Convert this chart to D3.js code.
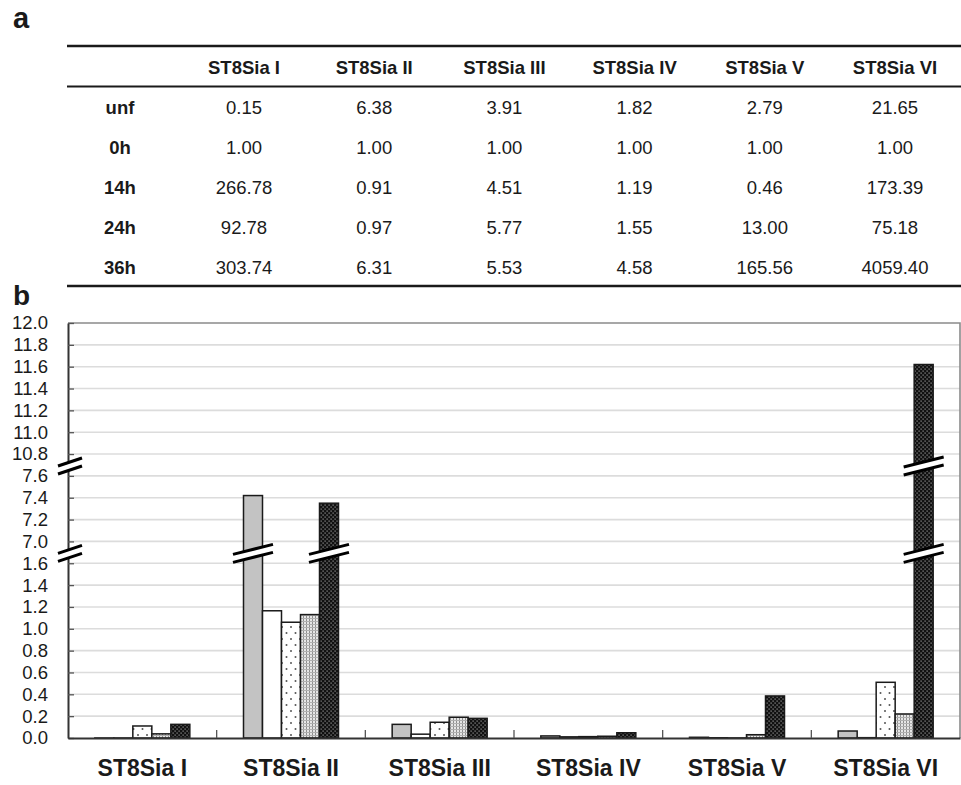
<!DOCTYPE html>
<html>
<head>
<meta charset="utf-8">
<script src="https://cdn.jsdelivr.net/npm/d3@7"></script>
<style>
  html, body { margin: 0; padding: 0; background: #fff; }
  svg { display: block; font-family: "Liberation Sans", Arial, Helvetica, sans-serif; }
</style>
</head>
<body>
<svg id="fig" width="961" height="785"></svg>
<script>
// ---- data -------------------------------------------------------------
const genes = ["ST8Sia I", "ST8Sia II", "ST8Sia III", "ST8Sia IV", "ST8Sia V", "ST8Sia VI"];
const timepoints = ["unf", "0h", "14h", "24h", "36h"];

// fold change relative to 0h (table a)
const foldUnf = [0.15, 6.38, 3.91, 1.82, 2.79, 21.65];
const fold0h  = [1.00, 1.00, 1.00, 1.00, 1.00, 1.00];
const fold14h = [266.78, 0.91, 4.51, 1.19, 0.46, 173.39];
const fold24h = [92.78, 0.97, 5.77, 1.55, 13.00, 75.18];
const fold36h = [303.74, 6.31, 5.53, 4.58, 165.56, 4059.40];

// relative expression levels (panel b)
const barUnf = [0.0001, 7.42, 0.125, 0.019, 0.0065, 0.064];
const bar0h  = [0.0004, 1.165, 0.035, 0.0105, 0.0023, 0.003];
const bar14h = [0.11, 1.06, 0.144, 0.0125, 0.001, 0.51];
const bar24h = [0.038, 1.13, 0.19, 0.016, 0.030, 0.22];
const bar36h = [0.125, 7.35, 0.18, 0.048, 0.385, 11.62];

// broken y axis: evenly spaced tick labels
const yTicks = [0.0, 0.2, 0.4, 0.6, 0.8, 1.0, 1.2, 1.4, 1.6,
                7.0, 7.2, 7.4, 7.6,
                10.8, 11.0, 11.2, 11.4, 11.6, 11.8, 12.0];
const axisBreaks = [[1.6, 7.0], [7.6, 10.8]];

// ---- layout ------------------------------------------------------------
const svg = d3.select("#fig");
const ink = "#1a1a1a";

const foldRows = [foldUnf, fold0h, fold14h, fold24h, fold36h];
const barSeries = [barUnf, bar0h, bar14h, bar24h, bar36h];

// ---- panel a: table ----------------------------------------------------
svg.append("text").attr("x", 13).attr("y", 28)
  .attr("font-size", 29).attr("font-weight", "bold").attr("fill", ink).text("a");

const tblLeft = 67, tblRight = 961;
const colX = d3.scalePoint().domain(genes).range([244, 895]);
const rowY = d3.scalePoint().domain(timepoints).range([107, 267]);
const labelX = 120;

[[46, 2.4], [86.5, 2], [286, 2.4]].forEach(([y, w]) => {
  svg.append("line").attr("x1", tblLeft).attr("x2", tblRight)
    .attr("y1", y).attr("y2", y).attr("stroke", ink).attr("stroke-width", w);
});

svg.append("g").selectAll("text").data(genes).join("text")
  .attr("x", d => colX(d)).attr("y", 67).attr("dy", "0.36em")
  .attr("text-anchor", "middle").attr("font-size", 18.5).attr("font-weight", "bold")
  .attr("fill", ink).text(d => d);

const rows = svg.append("g").selectAll("g").data(timepoints).join("g")
  .attr("transform", d => `translate(0,${rowY(d)})`);

rows.append("text").attr("x", labelX).attr("dy", "0.36em")
  .attr("text-anchor", "middle").attr("font-size", 18.5).attr("font-weight", "bold")
  .attr("fill", ink).text(d => d);

rows.each(function(t, i) {
  d3.select(this).selectAll("text.val").data(foldRows[i]).join("text")
    .attr("class", "val")
    .attr("x", (d, j) => colX(genes[j])).attr("dy", "0.36em")
    .attr("text-anchor", "middle").attr("font-size", 18.5)
    .attr("fill", ink).text(d => d.toFixed(2));
});

// ---- panel b: bar chart -------------------------------------------------
svg.append("text").attr("x", 13).attr("y", 305)
  .attr("font-size", 28).attr("font-weight", "bold").attr("fill", ink).text("b");

const plot = { left: 68, right: 960, top: 323, bottom: 738 };
const step = (plot.bottom - plot.top) / (yTicks.length - 1);

const y = d3.scaleLinear()
  .domain(yTicks)
  .range(yTicks.map((d, i) => plot.bottom - i * step));

const x0 = d3.scaleBand().domain(genes).range([plot.left, plot.right]);
const clusterW = 95;
const x1 = d3.scaleBand().domain(timepoints)
  .range([(x0.bandwidth() - clusterW) / 2, (x0.bandwidth() + clusterW) / 2]);

// fill patterns
const defs = svg.append("defs");
// 14h: sparse dots on white
const pDots = defs.append("pattern").attr("id", "pDots")
  .attr("patternUnits", "userSpaceOnUse").attr("width", 9).attr("height", 12);
pDots.append("rect").attr("width", 9).attr("height", 12).attr("fill", "#fff");
pDots.append("circle").attr("cx", 3).attr("cy", 3).attr("r", 1).attr("fill", "#555");
pDots.append("circle").attr("cx", 7.5).attr("cy", 9).attr("r", 1).attr("fill", "#555");
// 24h: fine light mesh
const pMesh = defs.append("pattern").attr("id", "pMesh")
  .attr("patternUnits", "userSpaceOnUse").attr("width", 3).attr("height", 3);
pMesh.append("rect").attr("width", 3).attr("height", 3).attr("fill", "#e6e6e6");
pMesh.append("rect").attr("width", 1).attr("height", 3).attr("fill", "#8f8f8f");
pMesh.append("rect").attr("width", 3).attr("height", 1).attr("fill", "#b0b0b0");
// 36h: dense light dots on black
const pDark = defs.append("pattern").attr("id", "pDark")
  .attr("patternUnits", "userSpaceOnUse").attr("width", 4).attr("height", 4);
pDark.append("rect").attr("width", 4).attr("height", 4).attr("fill", "#111");
pDark.append("rect").attr("x", 0.5).attr("y", 0.5).attr("width", 1.2).attr("height", 1.2).attr("fill", "#9a9a9a");
pDark.append("rect").attr("x", 2.5).attr("y", 2.5).attr("width", 1.2).attr("height", 1.2).attr("fill", "#9a9a9a");

const fills = d3.scaleOrdinal().domain(timepoints)
  .range(["#c3c3c3", "#ffffff", "url(#pDots)", "url(#pMesh)", "url(#pDark)"]);

// grid lines
svg.append("g").selectAll("line").data(yTicks.filter(d => d > 0 && d < 12.0)).join("line")
  .attr("x1", plot.left).attr("x2", plot.right)
  .attr("y1", d => y(d)).attr("y2", d => y(d))
  .attr("stroke", "#dcdcdc").attr("stroke-width", 1.6);

// frame top / right
svg.append("path")
  .attr("d", `M${plot.left},${plot.top}H${plot.right}V${plot.bottom}`)
  .attr("fill", "none").attr("stroke", "#8a8a8a").attr("stroke-width", 1.6);

// bars
const barData = [];
genes.forEach((g, gi) => timepoints.forEach((t, ti) => {
  barData.push({ gene: g, time: t, value: barSeries[ti][gi] });
}));

const bars = svg.append("g");
bars.selectAll("rect").data(barData).join("rect")
  .attr("x", d => x0(d.gene) + x1(d.time))
  .attr("y", d => y(d.value))
  .attr("width", x1.bandwidth())
  .attr("height", d => plot.bottom - y(d.value))
  .attr("fill", d => fills(d.time))
  .attr("stroke", ink).attr("stroke-width", 1.5);

// double-slash break mark
function breakMark(g, cx, cy, hw, rise) {
  const gap = 8;
  const top = [[cx - hw, cy - gap / 2 + rise / 2], [cx + hw, cy - gap / 2 - rise / 2]];
  const bot = [[cx - hw, cy + gap / 2 + rise / 2], [cx + hw, cy + gap / 2 - rise / 2]];
  g.append("polygon")
    .attr("points", [top[0], top[1], bot[1], bot[0]].map(p => p.join(",")).join(" "))
    .attr("fill", "#fff");
  [top, bot].forEach(l => g.append("line")
    .attr("x1", l[0][0]).attr("y1", l[0][1]).attr("x2", l[1][0]).attr("y2", l[1][1])
    .attr("stroke", "#000").attr("stroke-width", 3));
}

// breaks on bars that cross a gap
const breakLayer = svg.append("g");
barData.forEach(d => {
  axisBreaks.forEach(([lo, hi]) => {
    if (d.value > hi) {
      const cx = x0(d.gene) + x1(d.time) + x1.bandwidth() / 2;
      breakMark(breakLayer, cx, (y(lo) + y(hi)) / 2 + 1, 20, 10);
    }
  });
});

// y axis
const yAxis = d3.axisLeft(y).tickValues(yTicks).tickFormat(d3.format(".1f"))
  .tickSizeInner(-6).tickSizeOuter(0).tickPadding(20);
const gy = svg.append("g").attr("transform", `translate(${plot.left},0)`).call(yAxis);
gy.select(".domain").attr("stroke", "#333").attr("stroke-width", 2);
gy.selectAll(".tick line").attr("stroke", "#555").attr("stroke-width", 1.3);
gy.selectAll(".tick text").attr("font-size", 18.5).attr("fill", ink)
  .attr("font-family", "'Liberation Sans', Arial, sans-serif");

// breaks on y axis
axisBreaks.forEach(([lo, hi]) => {
  breakMark(svg.append("g"), plot.left + 2, (y(lo) + y(hi)) / 2 + 1, 12, 8);
});

// x axis
const xAxis = d3.axisBottom(x0).tickSize(0).tickPadding(22);
const gx = svg.append("g").attr("transform", `translate(0,${plot.bottom})`).call(xAxis);
gx.select(".domain").attr("stroke", "#333").attr("stroke-width", 2);
gx.selectAll(".tick text").attr("font-size", 23).attr("font-weight", "bold")
  .attr("fill", ink).attr("font-family", "'Liberation Sans', Arial, sans-serif");

// category separators on the baseline
svg.append("g").selectAll("line").data(genes.slice(1)).join("line")
  .attr("x1", d => x0(d)).attr("x2", d => x0(d))
  .attr("y1", plot.bottom).attr("y2", plot.bottom - 8)
  .attr("stroke", "#555").attr("stroke-width", 1.3);
</script>
</body>
</html>
